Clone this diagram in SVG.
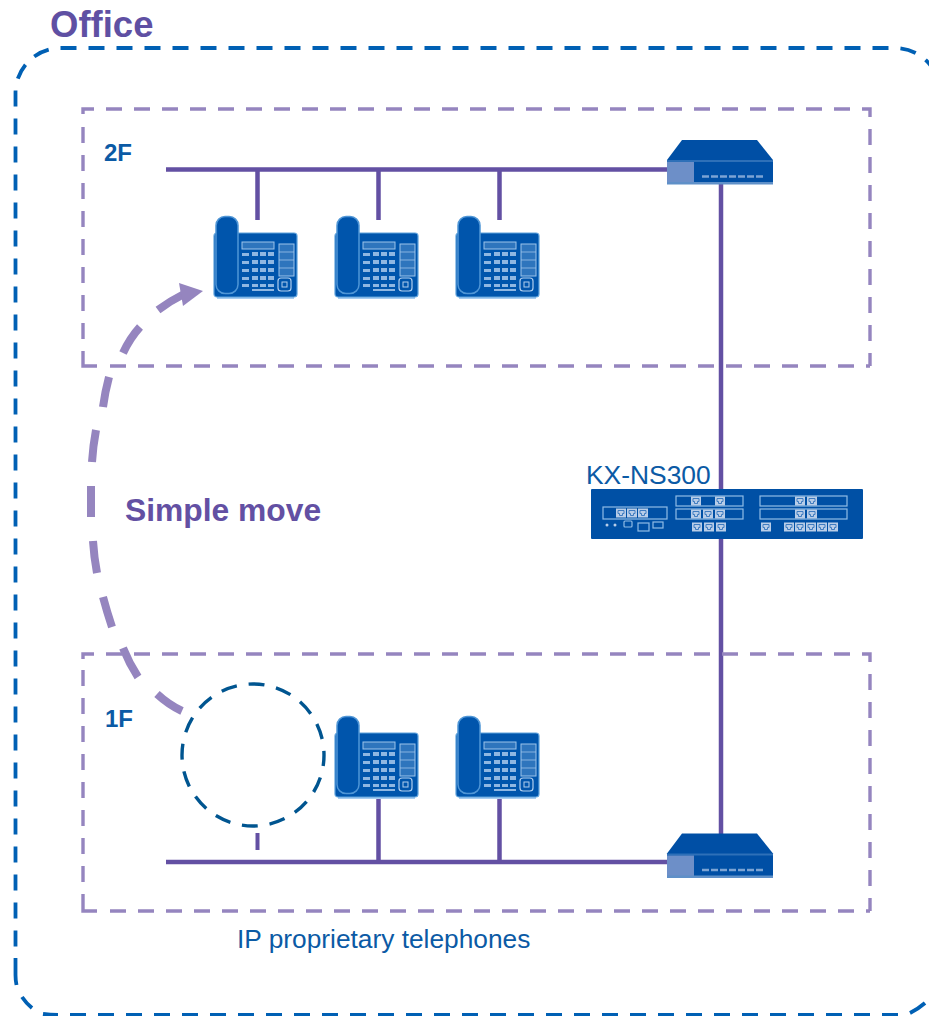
<svg xmlns="http://www.w3.org/2000/svg" width="929" height="1016" viewBox="0 0 929 1016">
<style>
text{font-family:"Liberation Sans",Arial,sans-serif}
.floor{fill:none;stroke:#9585bf;stroke-width:3.4}
.fd{stroke-dasharray:16 12}
.wire{fill:none;stroke:#6350a3;stroke-width:4.5}
.lab{fill:#0b5aa5;font-size:26.400px}
.flab{fill:#0b5aa5;font-size:24px;font-weight:bold}
.ol{fill:none;stroke:#8fbce6;stroke-width:1.2}
.out{fill:none;stroke:#0060b4;stroke-width:3.800}
</style>
<defs>
<filter id="soft" x="-5%" y="-5%" width="110%" height="110%"><feGaussianBlur stdDeviation="0.45"/></filter>
<g id="phone" filter="url(#soft)">
<rect x="3" y="78" width="77" height="5" fill="#a8cdf0"/>
<rect x="0" y="17" width="83" height="64" rx="3" fill="#0054ac" stroke="#5ea2dc" stroke-width="1.2"/>
<rect x="2" y="0.500" width="22" height="77" rx="9" fill="#0054ac" stroke="#4f96d6" stroke-width="1.5"/>
<rect x="28" y="26" width="32" height="7" fill="#2f74bd" stroke="#9cc4ea" stroke-width="1"/>
<g fill="#8fb7e2">
<rect x="28" y="37" width="7" height="3"/><rect x="28" y="45" width="7" height="3"/><rect x="28" y="53" width="7" height="3"/><rect x="28" y="61" width="7" height="3"/><rect x="28" y="68" width="7" height="3"/>
<rect x="38" y="36" width="6" height="4"/><rect x="46" y="36" width="6" height="4"/><rect x="54" y="36" width="6" height="4"/>
<rect x="38" y="44" width="6" height="4"/><rect x="46" y="44" width="6" height="4"/><rect x="54" y="44" width="6" height="4"/>
<rect x="38" y="52" width="6" height="4"/><rect x="46" y="52" width="6" height="4"/><rect x="54" y="52" width="6" height="4"/>
<rect x="38" y="60" width="6" height="4"/><rect x="46" y="60" width="6" height="4"/><rect x="54" y="60" width="6" height="4"/>
<rect x="38" y="68" width="6" height="3"/><rect x="46" y="68" width="6" height="3"/><rect x="54" y="68" width="6" height="3"/>
<rect x="38" y="73" width="22" height="2"/>
</g>
<rect x="65" y="28" width="15" height="32" fill="#2f74bd" stroke="#9cc4ea" stroke-width="1"/>
<path d="M65 36h15M65 44h15M65 52h15" stroke="#9cc4ea" stroke-width=".8"/>
<rect x="64" y="62" width="13" height="13" rx="3" fill="#0054ac" stroke="#b0cfee" stroke-width="1.2"/>
<rect x="68" y="66" width="5" height="5" fill="none" stroke="#b0cfee" stroke-width="1"/>
</g>
<g id="hub" filter="url(#soft)">
<path d="M15 0H90L106 20V44H0V20Z" fill="#0050a5"/>
<rect x="0" y="20" width="106" height="2" fill="#2f6fb8"/>
<rect x="0" y="22" width="27" height="21" fill="#6d8fc8"/>
<rect x="0" y="42" width="106" height="2.500" fill="#5f90c8"/>
<path d="M35 36.500h63" stroke="#7ba3d4" stroke-width="2.500" stroke-dasharray="7 2"/>
</g>
<g id="port" filter="url(#soft)">
<rect width="10" height="9" fill="#b8cde8"/>
<path d="M2 2h6v3h-1.500v2h-3v-2h-1.500z" fill="none" stroke="#3f7cc0" stroke-width="1"/>
</g>
</defs>

<g id="connectors">
<path class="wire" d="M166 169.500H668M257.500 169.500V220M378.500 169.500V220M499.500 169.500V220"/>
<path class="wire" d="M721 180V835"/>
<path class="wire" d="M166 862H668M378.500 795V862M499.500 795V862"/>
<path d="M257.500 833V850" fill="none" stroke="#6350a3" stroke-width="4"/>
<path d="M184 294Q170 301 158 310M140 327Q130 338 123 353M109 377Q105 392 103 407M96 430Q93 446 92 462M91 486V517M93 541Q94 557 97 573M103 597Q107 612 112 627M123 648Q129 663 138 677M157 694Q169 705 182 711" fill="none" stroke="#9585bf" stroke-width="8"/>
<polygon points="203,291 179,283 183,306" fill="#9585bf"/>
</g>

<g id="office">
<path class="out" stroke-dasharray="16 12" d="M60.500 48H895A45 45 0 0 1 940 93V1000"/>
<path class="out" stroke-dasharray="16 12" stroke-dashoffset="16" d="M60.500 48A45 45 0 0 0 15.500 93V947"/>
<path class="out" d="M15.500 958V975Q15.500 980 16.500 985M22 997Q26 1003 32 1008M43 1014Q50 1015 58 1015M910 1013Q918 1009 925 1003"/>
<path class="out" stroke-dasharray="16 12" d="M70 1015H898"/>
<text x="50" y="36.500" font-size="36.500" font-weight="bold" fill="#5f50a3">Office</text>
</g>
<g id="floor-2f">
<path class="floor fd" d="M83 114V109H870V366"/>
<path class="floor fd" d="M110 366H870"/>
<path class="floor fd" d="M83 127V340"/>
<path class="floor" d="M83 351V366H97"/>
<text class="flab" x="104" y="161">2F</text>
</g>
<g id="floor-1f">
<path class="floor fd" d="M83 659V654H870V911"/>
<path class="floor fd" d="M110 911H870"/>
<path class="floor fd" d="M83 670V883"/>
<path class="floor" d="M83 894V911H97"/>
<text class="flab" x="105" y="727">1F</text>
</g>

<g id="phone-2f-1"><use href="#phone" x="214" y="216"/></g>
<g id="phone-2f-2"><use href="#phone" x="335" y="216"/></g>
<g id="phone-2f-3"><use href="#phone" x="456" y="216"/></g>
<g id="phone-1f-1"><use href="#phone" x="335" y="716"/></g>
<g id="phone-1f-2"><use href="#phone" x="456" y="716"/></g>

<g id="moved-phone-placeholder">
<circle cx="253" cy="755" r="71" fill="none" stroke="#005590" stroke-width="3.400" stroke-dasharray="16 11.880" stroke-dashoffset="5"/>
</g>

<g id="hub-2f"><use href="#hub" x="667" y="140"/></g>
<g id="hub-1f"><use href="#hub" x="667" y="833.500"/></g>

<g id="kx-ns300">
<text class="lab" x="586" y="484">KX-NS300</text>
<rect x="591" y="489" width="272" height="50" rx="1" fill="#0050a5"/>
<g class="ol">
<rect x="603" y="507" width="64" height="12"/>
<rect x="676" y="496" width="67" height="10"/><rect x="676" y="509" width="67" height="10"/>
<rect x="760" y="496" width="87" height="10"/><rect x="760" y="509" width="87" height="10"/>
<rect x="624" y="521" width="8" height="6" rx="1"/><rect x="638" y="523" width="11" height="8"/><rect x="653" y="522" width="10" height="6"/>
</g>
<use href="#port" x="616" y="508.500"/><use href="#port" x="627" y="508.500"/><use href="#port" x="638" y="508.500"/>
<use href="#port" x="691" y="496.500"/><use href="#port" x="715" y="496.500"/>
<use href="#port" x="691" y="509.500"/><use href="#port" x="703" y="509.500"/><use href="#port" x="715" y="509.500"/>
<use href="#port" x="692" y="522.500"/><use href="#port" x="704" y="522.500"/><use href="#port" x="716" y="522.500"/>
<use href="#port" x="795" y="496.500"/><use href="#port" x="807" y="496.500"/>
<use href="#port" x="795" y="509.500"/><use href="#port" x="807" y="509.500"/>
<use href="#port" x="761" y="522.500"/>
<use href="#port" x="784" y="522.500"/><use href="#port" x="795" y="522.500"/><use href="#port" x="806" y="522.500"/><use href="#port" x="817" y="522.500"/><use href="#port" x="828" y="522.500"/>
<circle cx="607" cy="525" r="1.500" fill="#b8cde8"/><circle cx="615" cy="525" r="1.500" fill="#b8cde8"/>
</g>

<text x="125" y="521" font-size="31.800" font-weight="bold" fill="#6350a3">Simple move</text>
<text x="237" y="948" font-size="26.300" fill="#0b5aa5">IP proprietary telephones</text>
</svg>
